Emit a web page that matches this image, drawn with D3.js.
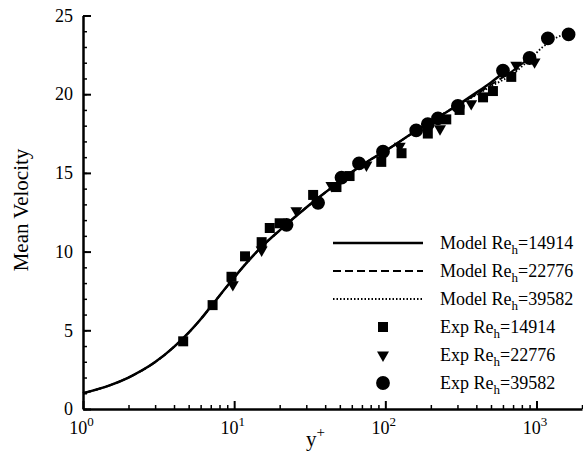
<!DOCTYPE html>
<html>
<head>
<meta charset="utf-8">
<script src="https://cdn.jsdelivr.net/npm/d3@7"></script>
<style>
  body { margin: 0; background: #fff; }
  text { font-family: "Liberation Serif", "Times New Roman", serif; fill: #000; }
</style>
</head>
<body>
<div id="chart"></div>
<script>
// ---- values: [y+, U+] ----
// model curves share the near-wall part
var modelInner = [[1, 1.0], [1.5, 1.5], [2, 2.0], [3, 2.98], [4, 3.95], [5, 4.85], [6, 5.7], [7, 6.5],
  [8, 7.2], [10, 8.35], [12, 9.25], [15, 10.25], [20, 11.35], [30, 12.8], [40, 13.75], [60, 15.05],
  [80, 15.85], [100, 16.4], [150, 17.5], [200, 18.25], [300, 19.3]];
var modelOuter14914 = [[400, 20.1], [500, 20.75], [650, 21.6]];
var modelOuter22776 = [[400, 20.0], [500, 20.6], [700, 21.5], [950, 22.5]];
var modelOuter39582 = [[400, 19.95], [500, 20.5], [700, 21.3], [900, 22.2], [1100, 23.0], [1300, 23.5], [1650, 23.9]];

var exp14914 = [[4.6, 4.3], [7.2, 6.6], [9.6, 8.4], [11.8, 9.7], [15.2, 10.6], [17.2, 11.5], [20, 11.8],
  [33.3, 13.6], [47.5, 14.1], [58, 14.8], [94, 15.7], [128, 16.25], [191, 17.5], [253, 18.4],
  [310, 19.0], [443, 19.8], [515, 20.2], [681, 21.1]];
var exp22776 = [[9.8, 7.9], [15.2, 10.1], [25.8, 12.6], [44, 14.2], [75, 15.5], [124.5, 16.7],
  [230, 17.8], [370, 19.4], [735, 21.85], [971, 22.05]];
var exp39582 = [[22.2, 11.7], [35.9, 13.1], [51.3, 14.7], [67, 15.6], [96.5, 16.35], [160, 17.7],
  [191, 18.1], [223, 18.46], [302, 19.25], [600, 21.5], [900, 22.3], [1189, 23.55], [1630, 23.8]];

var reynolds = ["14914", "22776", "39582"];
var yTicks = [0, 5, 10, 15, 20, 25];
var xTicks = [1, 10, 100, 1000];

var W = 583, H = 460;
var svg = d3.select("#chart").append("svg")
  .attr("width", W).attr("height", H);

var x = d3.scaleLog().domain([1, 2000]).range([83, 582]);
var y = d3.scaleLinear().domain([0, 25]).range([409, 15.5]);

// ---- axes (ticks point inward) ----
var yMinor = d3.range(0, 26, 1);
svg.append("g")
  .attr("transform", "translate(83,0)")
  .call(d3.axisLeft(y).tickValues(yMinor).tickSize(-4).tickFormat(""))
  .call(g => g.select(".domain").remove())
  .selectAll("line").attr("stroke-width", 1.5);

var yAxis = svg.append("g")
  .attr("transform", "translate(83,0)")
  .call(d3.axisLeft(y).tickValues(yTicks).tickSize(-8).tickSizeOuter(0).tickPadding(10));
yAxis.select(".domain").attr("stroke-width", 2.5);
yAxis.selectAll("line").attr("stroke-width", 2);
yAxis.selectAll("text").style("font-size", "18px").attr("font-family", null);

var xMinor = [];
[1, 10, 100, 1000].forEach(function (d) {
  for (var k = 2; k <= 9; k++) if (d * k <= 2000) xMinor.push(d * k);
});
svg.append("g")
  .attr("transform", "translate(0,409)")
  .call(d3.axisBottom(x).tickValues(xMinor).tickSize(-4).tickFormat(""))
  .call(g => g.select(".domain").remove())
  .selectAll("line").attr("stroke-width", 1.5);

var xAxis = svg.append("g")
  .attr("transform", "translate(0,409)")
  .call(d3.axisBottom(x).tickValues(xTicks).tickSize(-8).tickSizeOuter(0).tickPadding(10).tickFormat(""));
xAxis.select(".domain").attr("stroke-width", 2.5);
xAxis.selectAll("line").attr("stroke-width", 2);
xAxis.selectAll(".tick text")
  .attr("dy", null).attr("y", 25).attr("x", -2)
  .style("font-size", "18px")
  .each(function (d) {
    var t = d3.select(this);
    t.append("tspan").text("10");
    t.append("tspan").attr("dy", -8).style("font-size", "13px").text(Math.round(Math.log10(d)));
  });

svg.append("text")
  .attr("transform", "translate(28,210) rotate(-90)")
  .attr("text-anchor", "middle")
  .style("font-size", "21px")
  .text("Mean Velocity");

var yl = svg.append("text").attr("x", 306).attr("y", 446).style("font-size", "21px");
yl.append("tspan").text("y");
yl.append("tspan").attr("dy", -9).style("font-size", "15px").text("+");

// ---- model curves ----
var line = d3.line()
  .x(function (d) { return x(d[0]); })
  .y(function (d) { return y(d[1]); })
  .curve(d3.curveMonotoneX);

var models = [
  { data: modelInner.concat(modelOuter39582), dash: "1.5,2", width: 1.8 },
  { data: modelInner.concat(modelOuter22776), dash: "8,4", width: 2 },
  { data: modelInner.concat(modelOuter14914), dash: null, width: 2.5 }
];
svg.append("g").selectAll("path")
  .data(models)
  .join("path")
  .attr("d", function (d) { return line(d.data); })
  .attr("fill", "none")
  .attr("stroke", "#000")
  .attr("stroke-width", function (d) { return d.width; })
  .attr("stroke-dasharray", function (d) { return d.dash; });

// ---- experimental points ----
var symSquare = d3.symbol().type(d3.symbolSquare).size(100);
var symTri = d3.symbol().type(d3.symbolTriangle).size(62);
var symCircle = d3.symbol().type(d3.symbolCircle).size(150);

function drawPoints(data, sym, rot) {
  svg.append("g").selectAll("path")
    .data(data)
    .join("path")
    .attr("d", sym())
    .attr("transform", function (d) {
      return "translate(" + x(d[0]) + "," + y(d[1]) + ")" + (rot ? " rotate(180)" : "");
    })
    .attr("fill", "#000");
}
drawPoints(exp14914, symSquare, false);
drawPoints(exp22776, symTri, true);
drawPoints(exp39582, symCircle, false);

// ---- legend ----
var rowY = [243, 271, 299, 327, 355, 383];
var legendItems = [
  { kind: "line", dash: null, width: 2.5, label: "Model", re: reynolds[0] },
  { kind: "line", dash: "8,4", width: 2, label: "Model", re: reynolds[1] },
  { kind: "line", dash: "1.5,2", width: 1.8, label: "Model", re: reynolds[2] },
  { kind: "sym", sym: symSquare, rot: false, label: "Exp", re: reynolds[0] },
  { kind: "sym", sym: symTri, rot: true, label: "Exp", re: reynolds[1] },
  { kind: "sym", sym: symCircle, rot: false, label: "Exp", re: reynolds[2] }
];
var leg = svg.append("g").selectAll("g")
  .data(legendItems)
  .join("g")
  .attr("transform", function (d, i) { return "translate(0," + rowY[i] + ")"; });

leg.filter(function (d) { return d.kind === "line"; })
  .append("line")
  .attr("x1", 333).attr("x2", 423)
  .attr("stroke", "#000")
  .attr("stroke-width", function (d) { return d.width; })
  .attr("stroke-dasharray", function (d) { return d.dash; });

leg.filter(function (d) { return d.kind === "sym"; })
  .append("path")
  .attr("d", function (d) { return d.sym(); })
  .attr("transform", function (d) { return "translate(383,0)" + (d.rot ? " rotate(180)" : ""); })
  .attr("fill", "#000");

var lt = leg.append("text").attr("x", 440).attr("y", 6).style("font-size", "18px");
lt.append("tspan").text(function (d) { return d.label + " Re"; });
lt.append("tspan").attr("dy", 5).style("font-size", "13px").text("h");
lt.append("tspan").attr("dy", -5).text(function (d) { return "=" + d.re; });
</script>
</body>
</html>
